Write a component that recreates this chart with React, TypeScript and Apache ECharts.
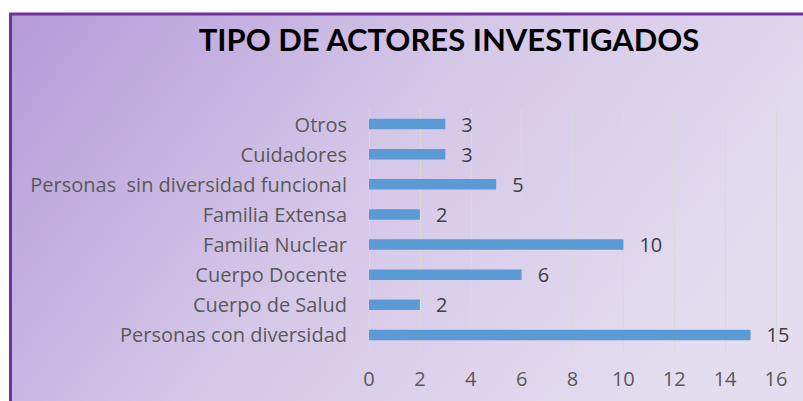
import React, { useEffect, useRef } from "react";
import * as echarts from "echarts";

const categories = [
  "Personas con diversidad",
  "Cuerpo de Salud",
  "Cuerpo Docente",
  "Familia Nuclear",
  "Familia Extensa",
  "Personas  sin diversidad funcional",
  "Cuidadores",
  "Otros",
];
const values = [15, 2, 6, 10, 2, 5, 3, 3];
const titleText = "TIPO DE ACTORES INVESTIGADOS";
const axisMin = 0;
const axisMax = 16;
const axisStep = 2;

export default function App() {
  const ref = useRef<HTMLDivElement>(null);
  useEffect(() => {
    if (!ref.current) return;
    const chart = echarts.init(ref.current, null, { renderer: "svg" });
    const font = "'Open Sans', 'Noto Sans', sans-serif";
    const titleFont = "Lato, 'Open Sans', sans-serif";
    chart.setOption({
      animation: false,
      backgroundColor: "#ffffff",
      graphic: [
        {
          type: "rect",
          z: -10,
          silent: true,
          shape: { x: 10.5, y: 14, width: 820, height: 420 },
          style: {
            fill: new echarts.graphic.LinearGradient(0, 0, 1, 0.4, [
              { offset: 0, color: "#b49bd8" },
              { offset: 0.5, color: "#d5c7e8" },
              { offset: 1, color: "#e4ddef" },
            ]),
            stroke: "#7030a0",
            lineWidth: 3,
          },
        },
      ],
      title: {
        text: titleText,
        left: 444,
        top: 18,
        textAlign: "center",
        textStyle: {
          fontFamily: titleFont,
          fontWeight: "bold",
          fontSize: 31,
          color: "#000000",
        },
      },
      grid: { left: 369, right: 27, top: 109, bottom: 51, containLabel: false },
      xAxis: {
        type: "value",
        min: axisMin,
        max: axisMax,
        interval: axisStep,
        axisLine: { show: false },
        axisTick: { show: false },
        axisLabel: { color: "#595959", fontSize: 20, fontFamily: font, margin: 18 },
        splitLine: { show: true, lineStyle: { color: "#d9d9d9", width: 1 } },
      },
      yAxis: {
        type: "category",
        data: categories,
        axisLine: { show: true, lineStyle: { color: "#d9d9d9", width: 1 } },
        axisTick: { show: false },
        axisLabel: { color: "#595959", fontSize: 20, fontFamily: font, margin: 22 },
      },
      series: [
        {
          type: "bar",
          data: values,
          barWidth: 10.5,
          itemStyle: { color: "#5b9bd5" },
          label: {
            show: true,
            position: "right",
            distance: 16,
            color: "#404040",
            fontSize: 20,
            fontFamily: font,
          },
        },
      ],
    });
    return () => chart.dispose();
  }, []);
  return (
    <div
      ref={ref}
      style={{ position: "fixed", left: 0, top: 0, width: 803, height: 401 }}
    />
  );
}
